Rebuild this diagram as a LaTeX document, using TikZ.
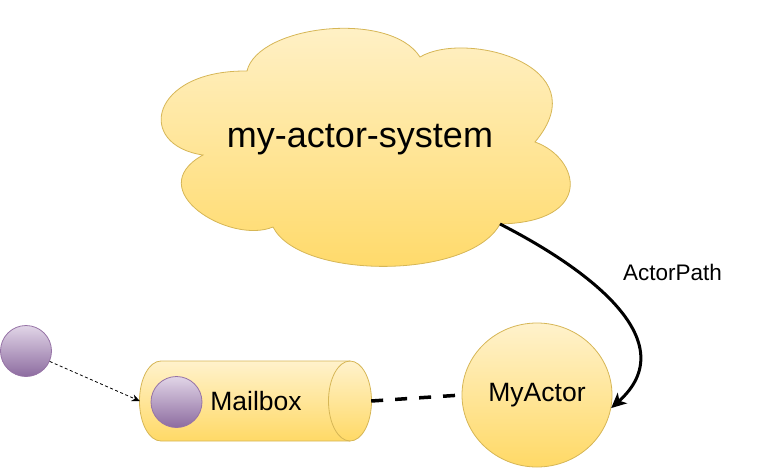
\documentclass[tikz,border=0pt]{standalone}
\usepackage{fontspec}
\setmainfont{Liberation Sans}
\usetikzlibrary{arrows.meta,shapes.geometric}
\definecolor{aklight}{RGB}{255,242,204}
\definecolor{akdark}{RGB}{255,217,102}
\definecolor{akedge}{RGB}{214,182,86}
\definecolor{msglight}{RGB}{225,213,231}
\definecolor{msgdark}{RGB}{141,108,160}
\definecolor{msgedge}{RGB}{150,115,166}

\begin{document}
\begin{tikzpicture}[
    x=1pt, y=-1pt,
    yel/.style={draw=akedge, line width=0.8pt, top color=aklight, bottom color=akdark},
    msg/.style={circle, draw=msgedge, line width=0.8pt, top color=msglight, bottom color=msgdark, minimum size=51pt, inner sep=0pt},
    actor/.style={ellipse, yel, minimum width=150pt, minimum height=144pt, inner sep=0pt, font=\fontsize{26.5}{30}\selectfont},
    box/.style={rectangle, minimum width=231pt, minimum height=80pt, inner sep=0pt, font=\fontsize{26.5}{30}\selectfont},
    tellarrow/.style={-{Stealth[length=8pt,width=7pt]}, line width=0.8pt, dash pattern=on 3pt off 2.5pt},
    bindline/.style={line width=3.5pt, dash pattern=on 12pt off 12pt},
    pathline/.style={-{Stealth[length=15pt,width=14pt,inset=4pt]}, line width=3pt},
    tag/.style={font=\fontsize{22.5}{26}\selectfont},
  ]
  \useasboundingbox (0,0) rectangle (764,467);

  % the actor system cloud
  \path[yel] (247,71) .. controls (258,25) and (390,10) .. (420,57)
    .. controls (465,30) and (600,65) .. (535,142)
    .. controls (580,158) and (595,222) .. (500,224)
    .. controls (470,280) and (300,280) .. (273,227)
    .. controls (230,245) and (140,190) .. (203,155)
    .. controls (135,145) and (150,70) .. (247,71) -- cycle;
  \node[font=\fontsize{36}{40}\selectfont] (sys) at (360,140) {my-actor-system};
  \coordinate (sysdent) at (500,224);

  % mailbox queue, lying on its side
  \path[yel] (161,361) -- (350,361)
    arc[start angle=-90, end angle=90, x radius=21.5, y radius=40] -- (161,441)
    arc[start angle=90, end angle=270, x radius=21.5, y radius=40] -- cycle;
  \draw[akedge, line width=0.8pt] (350,361)
    arc[start angle=-90, end angle=-270, x radius=21.5, y radius=40];
  \node[box] (mailbox) at (255.5,401) {\hspace*{1pt}Mailbox};

  \node[actor] (myactor) at (537,395) {MyActor};
  \node[msg] (inmsg) at (176.5,402) {};
  \node[msg] (newmsg) at (26,351) {};

  \draw[tellarrow] (newmsg) -- (mailbox.west);
  \draw[bindline] (mailbox.east) -- (myactor.west);
  \draw[pathline] (sysdent) .. controls (590,270) and (685,342) .. (myactor.-10)
    node[pos=0.32, tag, anchor=south west, xshift=36pt, yshift=-10pt] (pathlbl) {ActorPath};

\end{tikzpicture}
\end{document}
